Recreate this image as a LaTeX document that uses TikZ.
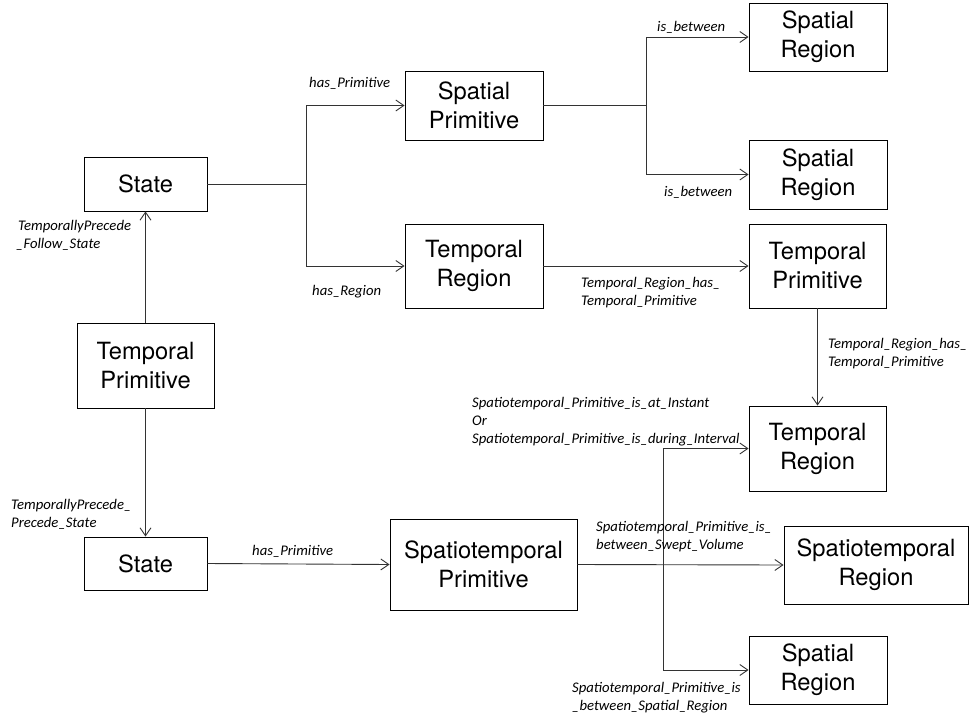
\documentclass[tikz,border=0pt]{standalone}
\usepackage{fontspec}
\setmainfont{TeX Gyre Heros}
\newfontfamily\lblfont{Carlito}
\usetikzlibrary{arrows.meta}
\tikzset{
  box/.style={draw=black, line width=0.9pt, inner sep=0pt, align=center,
    font=\fontsize{23.7}{29}\selectfont},
  conn/.style={draw=black!80, line width=0.9pt},
  arr/.style={conn, -{Straight Barb[length=8pt,width=11pt,line width=0.9pt]}},
  lbl/.style={inner sep=0pt, anchor=west, align=left,
    font=\lblfont\itshape\fontsize{14.7}{18}\selectfont}
}
\begin{document}
\begin{tikzpicture}[x=1pt,y=-1pt]
\useasboundingbox (0,0) rectangle (971,720);
% boxes
\node[box, minimum width=123pt, minimum height=54pt] (st1) at (145.5,184) {State};
\node[box, minimum width=137pt, minimum height=85pt] (tp1) at (145.5,365.5) {Temporal\\Primitive};
\node[box, minimum width=123pt, minimum height=53pt] (st2) at (145.5,563.5) {State};
\node[box, minimum width=138pt, minimum height=69pt] (spp) at (474,105.5) {Spatial\\Primitive};
\node[box, minimum width=138pt, minimum height=84pt] (trg1) at (474,266) {Temporal\\Region};
\node[box, minimum width=138pt, minimum height=68pt] (sr1) at (818,37) {Spatial\\Region};
\node[box, minimum width=138pt, minimum height=69pt] (sr2) at (818,174.5) {Spatial\\Region};
\node[box, minimum width=137pt, minimum height=84pt] (tpr) at (817.5,266) {Temporal\\Primitive};
\node[box, minimum width=137pt, minimum height=85pt] (trg2) at (817.5,448.5) {Temporal\\Region};
\node[box, minimum width=187pt, minimum height=91pt] (stp) at (483.5,564.5) {Spatiotemporal\\Primitive};
\node[box, minimum width=184pt, minimum height=78pt] (str) at (876,565) {Spatiotemporal\\Region};
\node[box, minimum width=138pt, minimum height=68pt] (sr3) at (818,670) {Spatial\\Region};
% junction coordinates
\coordinate (j1) at (306,184);
\coordinate (j2) at (646,105.5);
\coordinate (j3) at (663,564.5);
% connectors
\draw[conn] (st1.east) -- (j1);
\draw[arr] (j1) |- (spp.west);
\draw[arr] (j1) |- (trg1.west);
\draw[conn] (spp.east) -- (j2);
\draw[arr] (j2) |- (sr1.west);
\draw[arr] (j2) |- (sr2.west);
\draw[arr] (trg1.east) -- (tpr.west);
\draw[arr] (tpr.south) -- (tpr.south |- trg2.north);
\draw[arr] (tp1.north) -- (st1.south);
\draw[arr] (tp1.south) -- (st2.north);
\draw[arr] (st2.east) -- (stp.west);
\draw[arr] (stp.east) -- (str.west);
\draw[arr] (j3) |- (trg2.west);
\draw[arr] (j3) |- (sr3.west);
% labels
\node[lbl] (l1) at (309,83) {has\_Primitive};
\node[lbl] (l2) at (312,292) {has\_Region};
\node[lbl] (l3) at (657,27) {is\_between};
\node[lbl] (l4) at (664,192) {is\_between};
\node[lbl] (l5) at (581,292.5) {Temporal\_Region\_has\_\\Temporal\_Primitive};
\node[lbl] (l6) at (828,353.5) {Temporal\_Region\_has\_\\Temporal\_Primitive};
\node[lbl] (l7) at (16,235) {\hspace*{2pt}TemporallyPrecede\\\_Follow\_State};
\node[lbl] (l8) at (11,514) {TemporallyPrecede\_\\Precede\_State};
\node[lbl] (l9) at (252,551) {has\_Primitive};
\node[lbl] (l10) at (472,422) {Spatiotemporal\_Primitive\_is\_at\_Instant\\Or\\Spatiotemporal\_Primitive\_is\_during\_Interval};
\node[lbl] (l11) at (596,537) {Spatiotemporal\_Primitive\_is\_\\between\_Swept\_Volume};
\node[lbl] (l12) at (572,698) {Spatiotemporal\_Primitive\_is\\\_between\_Spatial\_Region};
\end{tikzpicture}
\end{document}
